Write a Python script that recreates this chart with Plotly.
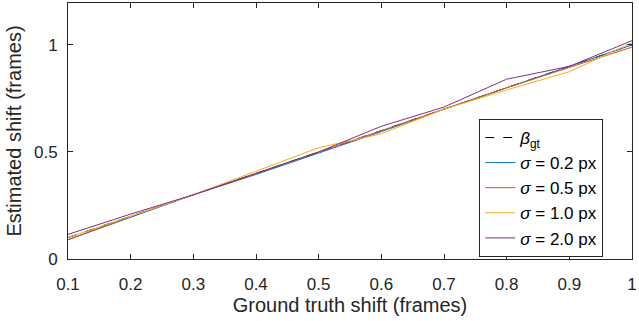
import plotly.graph_objects as go

x_vals = [0.1, 0.2, 0.3, 0.4, 0.5, 0.6, 0.7, 0.8, 0.9, 1.0]
x_ticktext = ["0.1", "0.2", "0.3", "0.4", "0.5", "0.6", "0.7", "0.8", "0.9", "1"]
y_tickvals = [0, 0.5, 1]
y_ticktext = ["0", "0.5", "1"]
beta_gt = [0.1, 0.2, 0.3, 0.4, 0.5, 0.6, 0.7, 0.8, 0.9, 1.0]
sig_02 = [0.09, 0.195, 0.30, 0.395, 0.495, 0.595, 0.70, 0.80, 0.90, 1.00]
sig_05 = [0.09, 0.20, 0.30, 0.40, 0.50, 0.60, 0.70, 0.80, 0.895, 0.99]
sig_10 = [0.10, 0.20, 0.30, 0.41, 0.52, 0.585, 0.70, 0.79, 0.875, 1.01]
sig_20 = [0.115, 0.21, 0.30, 0.40, 0.50, 0.62, 0.71, 0.84, 0.90, 1.02]

names = ["<i>σ</i> = 0.2 px", "<i>σ</i> = 0.5 px", "<i>σ</i> = 1.0 px", "<i>σ</i> = 2.0 px"]
colors = ["#0072BD", "#D95319", "#EDB120", "#7E2F8E"]
series = [sig_02, sig_05, sig_10, sig_20]

FONT = "Liberation Sans, Arial"

fig = go.Figure()
fig.add_trace(go.Scatter(x=x_vals, y=beta_gt, mode="lines", name="<i>β</i><sub>gt</sub>",
                         line=dict(color="black", width=1, dash="dash")))
for nm, c, s in zip(names, colors, series):
    fig.add_trace(go.Scatter(x=x_vals, y=s, mode="lines", name=nm, line=dict(color=c, width=1)))

axis_common = dict(showline=True, linecolor="#262626", linewidth=1, mirror="ticks",
                   ticks="inside", ticklen=5, tickcolor="#262626", showgrid=False, zeroline=False,
                   ticklabeloverflow="allow",
                   tickfont=dict(family=FONT, size=17, color="#262626"))

fig.update_layout(
    width=639, height=321,
    margin=dict(l=68, r=2, t=3, b=62),
    plot_bgcolor="white", paper_bgcolor="white",
    xaxis=dict(range=[0.1, 1.00001], tickvals=x_vals, ticktext=x_ticktext, ticklabelstandoff=10,
               title=dict(text="Ground truth shift (frames)", font=dict(family=FONT, size=20, color="#262626"), standoff=2),
               **axis_common),
    yaxis=dict(range=[0, 1.196], tickvals=y_tickvals, ticktext=y_ticktext, ticklabelstandoff=6,
               title=dict(text="Estimated shift (frames)", font=dict(family=FONT, size=20, color="#262626"), standoff=6),
               **axis_common),
    legend=dict(x=0.949, y=0.008, xanchor="right", yanchor="bottom", bgcolor="white",
                bordercolor="#262626", borderwidth=1,
                font=dict(family=FONT, size=17, color="black"),
                tracegroupgap=0, itemwidth=30),
    showlegend=True,
)

fig.write_html("out.html")
